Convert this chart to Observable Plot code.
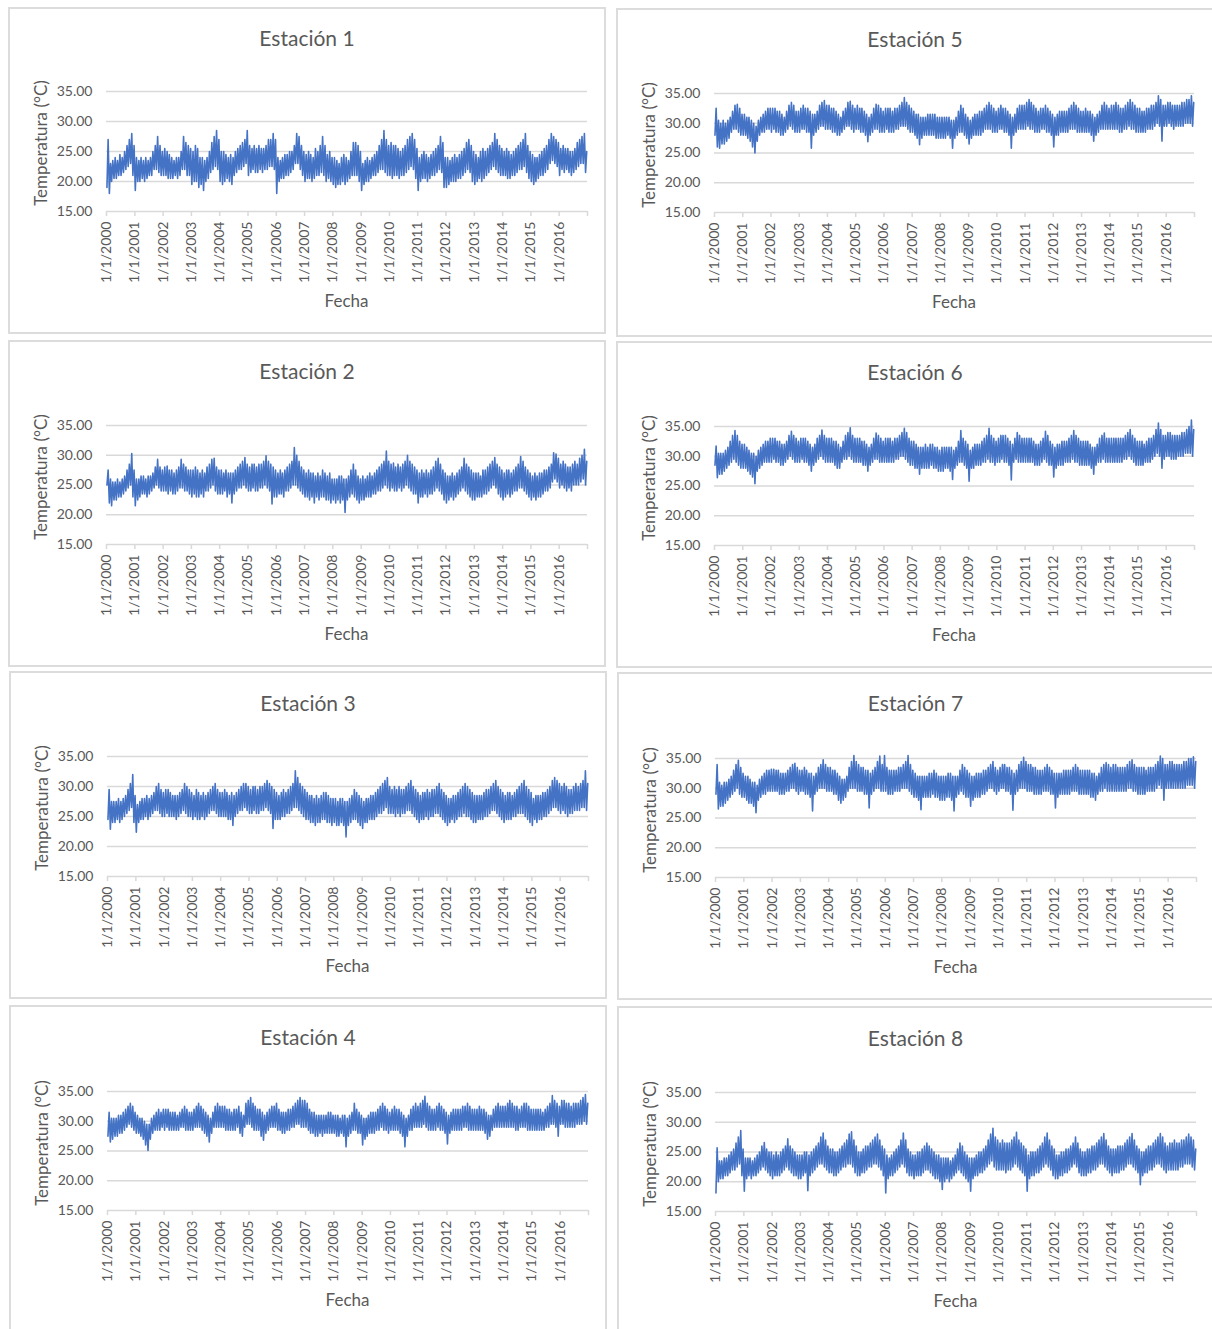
<!DOCTYPE html>
<html><head><meta charset="utf-8">
<script src="https://cdn.jsdelivr.net/npm/d3@7"></script>
<script src="https://cdn.jsdelivr.net/npm/@observablehq/plot@0.6"></script>
<style>
body{margin:0;background:#fff;font-family:Lato,"Open Sans",sans-serif;}
#root{position:relative;width:1212px;height:1329px;overflow:hidden;background:#fff;}
.panel{position:absolute;border:2px solid #dcdcdc;box-sizing:border-box;background:#fff;}
.title{position:absolute;left:0;right:0;text-align:center;font-size:21px;line-height:24px;color:#595959;}
.atitle{position:absolute;font-size:17px;line-height:20px;color:#595959;white-space:nowrap;}
.panel svg{position:absolute;left:0;overflow:visible;}
</style></head>
<body><div id="root"></div>
<script>
// Monthly low/high pairs (°C), Jan 2000 .. Dec 2016
const s1 = [
19,27, 18,23, 20,23.5, 20.5,24, 20.5,23.5, 21,24.5, 21,24, 21.5,25, 22,26, 22.5,27, 23,28, 21,26,
18.5,24, 20,23.5, 20,24, 20.5,23.5, 20,24, 20.5,23.5, 21,24, 21,25, 22,26, 22,27.5, 21.5,26, 21,25,
21,25.5, 21,25, 20.5,24.5, 20.5,24, 20.5,23.5, 21,24, 20.5,24, 21,25, 22,27.5, 22,26.5, 21,26, 21,25.5,
19.5,25, 20,26, 20,25.5, 19,24, 19.5,24, 18.5,23.5, 20,24, 20.5,25, 21.5,26.5, 22,27.5, 22.5,28.5, 22,27,
20,25, 19.5,25, 20,24.5, 20.5,24, 20,24.5, 19.5,24, 21,25, 21.5,25.5, 22,26, 22,26.5, 22.5,27, 23,28.5,
21,26, 21.5,25.5, 22,26, 21.5,25.5, 21.5,26, 22,25.5, 21.5,25.5, 22,26, 22,27, 22.5,27, 22.5,28, 22,27,
18,24, 20,23.5, 20.5,24, 20.5,24.5, 21,24.5, 21,25, 21.5,25, 22,26, 23,28, 23,27.5, 22,26, 21,25,
20,24.5, 20.5,25, 20.5,24.5, 20,24, 20.5,25.5, 21,25, 21,26, 21.5,27.5, 21,26, 20,24.5, 20.5,25, 20,24,
19.5,24, 19,23.5, 19.5,23, 19.5,24, 20,24.5, 19.5,24, 20,23.5, 20.5,25, 21,26.5, 21,26.5, 21,26, 20,25,
18.5,23, 19.5,23.5, 20,24, 20,23.5, 20.5,24, 21,24.5, 21,25, 21.5,26, 22,27, 22,28.5, 21.5,27, 21,26,
21,26.5, 20.5,26, 21,26, 21,25.5, 20.5,25, 21,25.5, 21,26, 21.5,27, 22,27.5, 22.5,28, 22,27, 20.5,25.5,
18.5,24, 20,24.5, 20.5,25, 20.5,24.5, 20,24, 20.5,24.5, 21,25, 21,25.5, 21.5,26, 22,27.5, 21.5,26.5, 19,24,
19,24, 19.5,23.5, 20,24, 20,24.5, 20,24, 20.5,24.5, 20.5,25, 21,25.5, 21.5,26.5, 22,27, 21.5,26, 20,25,
19.5,24.5, 20,24, 20.5,25, 20,25.5, 20.5,25, 21,25.5, 21.5,26, 22,26.5, 22.5,28, 22,27, 21.5,26, 21,25.5,
21,25, 21,25.5, 20.5,25, 20.5,24.5, 21,25, 21,25.5, 21.5,26, 22,26.5, 22,27, 22.5,28, 21.5,26, 20.5,25,
20,24.5, 19.5,24, 20,24, 20.5,24.5, 21,25, 21,25.5, 21.5,26, 22,27, 23,28, 23.5,27.5, 23,27, 22.5,26.5,
21,25.5, 22,26, 21.5,25.5, 22,25.5, 21.5,25, 21,25, 21.5,25.5, 22,26.5, 22.5,27, 23,27.5, 23,28, 21.5,25
];
const s2 = [
25,27.5, 22,26, 21.5,25.5, 22.5,25.5, 22.5,26, 23,25.5, 23,26, 23.5,26.5, 24,27.5, 24.5,28.5, 25,30.3, 23,27.5,
21.5,26, 22.5,26, 23,26.5, 23.5,26.5, 23.5,26, 23,26.5, 23.5,26.5, 24,27, 24.5,28, 25,29.3, 24.5,28, 24,27.5,
24,28, 24,28.2, 23.5,27.5, 24,27.5, 23.5,27, 23.5,27.5, 24,28, 24.5,29.3, 24.5,28.5, 24,28, 24,27.5, 23.5,27.5,
23,27.5, 23.5,28, 23,27.5, 23,27, 23.5,27.5, 23,27, 24,28, 24,28.5, 24.5,29.3, 25,29.5, 24,28, 23.5,27.5,
23.5,27.5, 23.5,27, 24,27.5, 23,27, 23.5,27, 22,27, 23.5,27.5, 24,28, 24.5,28.5, 24.5,29, 25,29.6, 24.5,28.5,
24,28, 24,28.5, 24.5,28.5, 24,28, 24,28.5, 24.5,28.5, 24.5,29, 25,29.9, 24.5,29, 24,28.5, 21.8,28, 23,27.5,
23,27, 23.5,27.5, 23.5,27, 23,27.5, 24,28, 24,28.5, 24.5,29, 25,31.3, 25,30, 24.5,29, 24,28, 23.5,27.5,
23,27, 23,27.5, 22.5,27, 23,27, 22,26.5, 23,27, 22.5,26.5, 23,27.5, 23,27, 22.5,26.5, 22.5,27, 22,26,
22.5,26, 22,26, 22.5,26.5, 22,26.5, 22.5,26, 20.4,26, 22.5,26.5, 23,27.5, 23.5,28.5, 23,27.5, 22.5,26.5, 22,26,
22.5,26.5, 22.5,26, 23,26.5, 23,27, 23,26.5, 23.5,27, 23.5,27.5, 24,28, 24,28.5, 24.5,29, 25,30.7, 24.5,29,
24,28.5, 24.5,28.7, 24,28, 24,28.5, 24.5,28, 24,28.5, 24.5,29, 25,30, 24.5,29, 24,28.5, 23.5,28, 23.5,27.5,
22,27, 23,27.5, 23,27, 23.5,27.5, 23,27, 23.5,27.5, 23.5,28, 24,29, 24.5,29.5, 24,28.5, 23.5,27.5, 22.5,27,
22,26.5, 22.5,26.5, 23,27, 22.5,26.5, 23,27, 23.5,27.5, 24,28, 24.5,29.5, 24,28.5, 23.5,28, 23,27.5, 22.5,27,
22.5,27, 23,27, 23,26.5, 23,27.5, 23.5,27.5, 23.5,28, 24,28.5, 24.5,29, 25,29.6, 24.5,28.5, 23.5,28, 23,27.5,
22.5,27, 23,27.5, 23.5,27.5, 23,27, 23.5,27.5, 24,28, 24,28.5, 24.5,29.8, 24.5,29, 24,28, 23.5,27.5, 23,27,
22.5,26.5, 23,27, 22.5,26.5, 23,27, 23,27, 23.5,27.5, 24,27.5, 24,28, 24.5,28.5, 25.5,30.4, 26,30.2, 25.5,29.5,
24.5,28.5, 25,29, 24.5,28.5, 24,28, 24.5,28, 24,28.5, 25,29, 25,28.5, 25,29.5, 25.5,30, 26,31, 25,29
];
const s3 = [
24.5,29.5, 22.9,27.5, 24,27.5, 24,27.5, 24.5,28, 24,27.5, 24.5,28, 25,28.5, 25.5,29.5, 26,30.5, 26.5,32, 24,28.5,
22.4,27, 24,27.5, 24.5,28, 24.5,28, 25,28.5, 24.5,28, 25,28.5, 25.5,29, 26,30, 26,30.5, 25.5,29.5, 25,29,
25,29.5, 25.5,29.5, 25,29, 25,28.5, 25,28.5, 24.5,28.5, 25,29, 25.5,29.5, 26,30.5, 25.5,30, 25,29.5, 25,29,
24.5,28.5, 25,29.5, 24.5,29, 24.5,28.5, 25,29, 24.5,28.5, 25,29, 25.5,29.5, 26,30, 26,30.5, 25.5,29.5, 25,29,
25,29, 25,29.5, 25,29, 24.5,28.5, 24.5,29, 23.5,28.5, 25,29, 25.5,29.5, 26,30, 26,30.5, 26.5,30.5, 26,30,
25.5,29.5, 25.5,30, 26,30, 25.5,29.5, 25.5,30, 26,30, 26,30.5, 26.5,31, 26,30.5, 25.5,30, 23,29.5, 24.5,29,
24.5,28.5, 24.5,29, 25,29.5, 25,29, 25.5,29.5, 25.5,30, 26,30.5, 26.5,32.6, 26.5,31.5, 26,30.5, 25.5,30, 25,29.5,
24.5,29, 24.5,28.5, 24,28.5, 24,28, 23.5,28.5, 24,28, 24,28.5, 24.5,29, 24.5,29, 24,28.5, 24,28, 23.5,28,
24,28, 23.5,27.5, 23.5,28, 24,28, 23.5,27.5, 21.6,27.5, 23.5,28, 24,28.5, 24.5,29.5, 24.5,29, 24,28.5, 23.5,28,
23,27.5, 24,28, 24,28, 24.5,28.5, 24.5,28.5, 24.5,29, 25,29.5, 25.5,30, 25.5,30.5, 26,31, 26.5,31.5, 25.5,30,
25.5,29.5, 25.5,30, 25,29.5, 25.5,30, 25,29.5, 25.5,29.5, 25.5,30, 26,30.5, 26,31, 25.5,30, 25,29.5, 24.5,29,
24,28.5, 24.5,29, 24.5,29, 25,29.5, 24.5,29, 25,29.5, 25,29.5, 25.5,30, 25.5,30.5, 25,29.5, 24.5,29, 24,28.5,
23.5,28, 24,28, 24.5,28.5, 24,28.5, 24.5,29, 25,29.5, 25,30, 25.5,30.5, 25,30, 25,29.5, 24.5,29, 24,28.5,
24,28.5, 24.5,28.5, 24.5,28.5, 24.5,29, 25,29.5, 25,29.5, 25.5,30, 26,30.5, 26,31, 25.5,30, 25,29.5, 24.5,29,
24,28.5, 24.5,29, 24.5,29, 24.5,28.5, 25,29, 25,29.5, 25.5,30, 25.5,30.5, 25.5,31, 25,30, 24.5,29.5, 24,29,
23.5,28, 24.5,28.5, 24,28.5, 24.5,28.5, 24.5,29, 25,29, 25,29.5, 25.5,30, 26,31, 26.5,31.5, 26.5,31, 26,30.5,
25.5,30, 26,30.5, 25.5,30, 25,29.5, 25.5,29.5, 25.5,30, 26,30.5, 26,30, 26,30.5, 26.5,31, 26.5,32.6, 26,30.5
];
const s4 = [
27.5,31.5, 26.5,30.5, 27,30.5, 27.5,30.5, 27.5,31, 28,31, 28,31.5, 28.5,32, 29,32.5, 29.5,33, 29,32.5, 28.5,31.5,
28,31, 28,30.5, 27.5,30.5, 27,30, 26,29.5, 25.1,29.5, 27,30.5, 28,31, 28.5,31.5, 28.5,32, 28.5,31.5, 29,32,
28.5,32, 29,32, 28.5,31.5, 28.5,31.5, 28.5,31.5, 28.5,31, 28.5,31.5, 29,32, 29,32.5, 28.5,32, 28.5,31.5, 28.5,31.5,
28.5,32, 29,32.5, 29,33, 29,32.5, 28.5,32, 28,31.5, 27.5,31, 26.5,30.5, 28,31.5, 29,32.5, 29,33, 29,32.5,
29,32.5, 29,32.5, 28.5,32, 28.5,32, 28.5,31.5, 28.5,32, 28.5,32, 29,32.5, 28,31.5, 27.5,31, 29,33, 29.5,33.5,
29.5,34, 29,33, 28.5,32.5, 28.5,32, 28.5,32, 27.5,31.5, 26.8,31, 28,31.5, 28.5,32, 29,32.5, 29,32.5, 29,33,
28.5,32, 28.5,31.5, 28,31.5, 28,31.5, 28.5,32, 28.5,32, 29,32.5, 29,33, 29.5,33.5, 29.5,34, 29,33.5, 29,33.5,
29,33, 28.5,32, 28,31.5, 28,31.5, 27.5,31, 27.5,31, 28,31, 27.5,31, 28,31, 28,31.5, 28,31.5, 28,31,
28,31, 27.5,31, 27.5,30.5, 28,31, 27.5,31, 25.7,30.5, 27.5,31, 28,31.5, 28.5,33, 28.5,32, 28,31.5, 28,31,
26,30.5, 27,30.5, 27.5,31, 28,31.5, 28,31.5, 28,31.5, 28.5,32, 28.5,32.5, 29,33, 28.5,32.5, 28.5,32, 28,31.5,
28.5,32, 28.5,32.5, 28.5,32, 28.5,32, 28,31.5, 27.5,31, 25.7,30.5, 27.5,31, 28.5,32, 28.5,32.5, 29,33, 29,32.5,
29,33, 29,33.5, 29.5,34.2, 29,33, 28.5,32.5, 28.5,32, 28.5,32, 28.5,32.5, 29,33, 28.5,32.5, 28.5,32, 28,31.5,
26.2,31, 28,31.5, 28.5,32, 28.5,32, 28.5,32, 28.5,32, 28.5,32.5, 29,32.5, 29,33, 28.5,32.5, 28.5,32, 28.5,32,
28.5,32, 28.5,32.5, 28.5,32, 28.5,32, 28,31.5, 27,31, 27.5,31, 28.5,32, 29,32.5, 29,33, 29,32.5, 29,32.5,
29,32.5, 29,33, 29,33.5, 29,33, 29,32.5, 28.5,32.5, 28.5,32, 29,32.5, 29,33, 29,33, 28.5,32.5, 28.5,32,
28.5,32, 28.5,32, 28.5,32, 28.5,32, 28.5,31.5, 28.5,32, 29,32.5, 29,33, 29.5,34.3, 29.5,33.5, 29,33, 27.5,32.5,
29.5,33.5, 29.5,33.5, 29,33, 29,33, 29,32.5, 29,33, 29,33, 29.5,33, 29.5,33.5, 29.5,34, 30,34.5, 29.5,33
];
const s5 = [
28,32.5, 26,30.5, 25.8,30, 26.5,30.5, 26.5,30, 27,30.5, 27.5,31, 28.5,32, 29,33, 29,33.2, 28.5,32.5, 28,31.5,
28,31.5, 28,31, 27.5,31, 27,30.5, 26,30, 25,29.5, 27,30.5, 28,31, 28.5,31.5, 28.5,32, 29,32.5, 29,32.5,
28.5,32.5, 29,32.5, 28.5,32, 28.5,32, 28,31.5, 28,31, 28.5,32, 29,33, 29.5,33.5, 29,33, 28.5,32, 28.5,32,
28.5,32.5, 29,33, 29,32.5, 28.5,32.5, 28.5,32, 25.8,31.5, 28,31.5, 28.5,32, 29,33, 29.5,33.5, 29.5,33.8, 29,33,
29,33, 29,32.5, 28.5,32.5, 28.5,32, 28,31.5, 28,31, 28.5,32, 29,32.5, 29.5,33.5, 29.5,33.7, 29,33, 28.5,32.5,
29,33, 29,32.5, 28.5,32.5, 28.5,32, 28,31.5, 26.9,31, 28,31.5, 28.5,32.5, 29,33.2, 29,33, 28.5,32.5, 28.5,32,
28.5,32.5, 29,32.5, 28.5,32.5, 28.5,32, 28.5,32.5, 29,32.5, 29,33, 29.5,33.5, 29.5,34.3, 29.5,33.5, 29,33, 28.5,32.5,
28.5,32, 28,31.5, 27.5,31.5, 26.4,31, 27.5,31, 28,31, 28,31.5, 28,31.5, 28,31.5, 28,31.5, 27.5,31, 27.5,31,
27.5,31, 27.5,31, 27.5,31, 28,31, 27.5,30.5, 25.8,30.5, 27.5,31, 28,32, 28.5,33, 28.5,32.5, 28,31.5, 27.5,31,
26.5,30.5, 27.5,31, 28,31.5, 28,31.5, 28,32, 28,32, 28.5,32.5, 29,33, 29,33.5, 29,33, 28.5,32.5, 28.5,32,
28.5,32.5, 29,33, 29,32.5, 28.5,32.5, 28.5,32, 28,31.5, 25.8,31, 28,31.5, 28.5,32.5, 29,33, 29,33, 29,33,
29,33.5, 29.5,34, 29,33.5, 29,33, 28.5,32.5, 28.5,32, 28.5,32.5, 29,32.5, 29,33, 28.5,32.5, 28.5,32, 28,31.5,
26,31, 28,31.5, 28,32, 28.5,32, 28.5,32, 28.5,32, 28.5,32.5, 29,33, 29,33.5, 29,33, 28.5,32.5, 28.5,32,
28.5,32, 28.5,32.5, 28.5,32, 28.5,32, 28,31.5, 27,31, 28,31.5, 28.5,32, 29,33, 29,33.5, 29,33, 29,32.5,
29,33, 29,33, 29,33.5, 29,33, 28.5,32.5, 28.5,32.5, 29,33, 29,33.5, 29.5,34, 29,33.5, 29,33, 28.5,32.5,
28.5,32.5, 28.5,32, 28.5,32, 28.5,32.5, 29,32.5, 29,33, 29,33, 29.5,33.5, 30,34.6, 29.5,34, 27,33, 29.5,33,
29.5,33.5, 30,33.5, 29.5,33, 29,33, 29.5,33, 29.5,33, 29.5,33.5, 29.5,33.5, 30,34, 30,34, 30,34.6, 29.5,33.5
];
const s6 = [
28.5,31.7, 26.4,30.5, 27,30.5, 27,30.5, 27.5,31, 28,31.5, 28.5,32.5, 29,33.5, 29.5,34.3, 29,33.5, 28.5,32.5, 28,32,
28,32, 28,31.5, 27.5,31, 27,30.5, 26.5,30.5, 25.4,30, 27.5,31, 28,31.5, 28.5,32, 29,32.5, 29,32.5, 29,33,
29,33, 29.5,33, 29,32.5, 29,32.5, 28.5,32, 28.5,32, 29,32.5, 29.5,33.5, 30,34.2, 29.5,33.5, 29,33, 29,32.5,
29,33, 29.5,33, 29,33, 29,32.5, 28.5,32, 27.5,31.5, 28.5,32, 29,33, 29.5,33.5, 30,34.4, 29.5,33.5, 29,33,
29,33, 29,33, 29,32.5, 28.5,32.5, 28,32, 28,31.5, 29,32.5, 29.5,33.5, 29.5,34, 30,34.8, 29.5,33.5, 29,33,
29,33, 29,33, 29,32.5, 28.5,32.5, 28.5,32, 27.5,31.5, 28.5,32, 29,33, 29.5,33.9, 29.5,33.5, 29,33, 29,32.5,
29,33, 29,33, 29,33, 29,32.5, 29,33, 29.5,33, 29.5,33.5, 30,34, 30,34.7, 29.5,34, 29,33, 28.5,32.5,
28.5,32.5, 28,32, 28,31.5, 27,31.5, 28,31.5, 28,32, 28,31.5, 28,32, 28.5,32, 28,31.5, 28,31.5, 27.5,31,
27.5,31.5, 27.5,31.5, 28,31.5, 28,31.5, 27.5,31.5, 26.1,31, 28,31.5, 28.5,32.5, 29,34.3, 29,33, 28.5,32.5, 28,32,
25.8,31, 28,31.5, 28,32, 28.5,32, 28.5,32, 28.5,32.5, 29,33, 29,33.5, 29.5,34.7, 29,33.5, 29,33, 28.5,32.5,
29,33, 29,33.5, 29.5,33.5, 29,33.5, 29,33, 28.5,32.5, 26,32, 29,33, 29.5,34, 29,33.5, 29,33, 29,33,
29,33, 29,33, 29,33, 29,32.5, 28.5,32, 28.5,32, 28.5,32.5, 29,33, 29.5,34.2, 29,33.5, 28.5,32.5, 28.5,32,
26.5,31.5, 28,32, 28.5,32, 28.5,32.5, 28.5,32.5, 29,32.5, 29,33, 29,33.5, 29.5,34.3, 29,33.5, 29,33, 28.5,32.5,
28.5,32.5, 28.5,32.5, 28.5,32.5, 28.5,32, 28,31.5, 27,31.5, 28.5,32, 29,33, 29,33.5, 29.5,33.9, 29,33, 29,33,
29,33, 29,33, 29,33, 29,33, 29,33, 29,33, 29.5,33.5, 29.5,34, 30,34.5, 29.5,33.5, 29,33, 28.5,32.5,
28.5,32.5, 28.5,32.5, 28.5,32, 29,32.5, 29,33, 29,33, 29.5,33.5, 30,34.5, 30.5,35.6, 30,34.5, 28,33.5, 29.5,33.5,
30,34, 30,34, 29.5,33.5, 29.5,33.5, 29.5,33.5, 30,33.5, 30,34, 30,34, 30.5,34.5, 30.5,35, 30.5,36.1, 30,34.5
];
const s7 = [
29,34, 26.5,31, 27,30.5, 27,31, 27.5,31, 28,31.5, 28.5,32, 29,33, 29.5,34, 30,34.7, 29,33.5, 28.5,32.5,
28.5,32, 28,32, 27.5,31.5, 27.5,31, 27,31, 25.9,30.5, 28,31.5, 28.5,32, 29,32.5, 29,33, 29.5,33, 29.5,33.2,
29.5,33.2, 29.5,33, 29.5,33, 29,32.5, 29,32.5, 29,32.5, 29.5,33, 29.5,33.5, 30,34, 30,34.2, 29.5,33.5, 29,33,
29.5,33, 29.5,33.5, 29,33, 29,32.5, 28.5,32.5, 26.2,32, 29,32.5, 29.5,33.5, 30,34, 30,34.8, 30,34, 29.5,33.5,
29.5,33.5, 29.5,33, 29,33, 29,32.5, 28,32, 27.5,31.5, 28,31.5, 28.5,32, 29.5,33.5, 30,34.5, 30,35.5, 30,34.5,
29.5,34, 29.5,33.5, 29.5,33.5, 29,33, 29,33, 26.7,32.5, 29,33, 29.5,33.5, 30,34.5, 30,35.4, 29.5,34, 29.5,35.5,
29.5,33.5, 29,33, 29,33, 29,33, 29.5,33, 29.5,33.5, 29.5,33.5, 30,34, 30,34.5, 30,35.5, 29.5,34, 29,33,
28.5,32.5, 28.5,32, 28,32, 26.4,32, 28.5,32, 28.5,32, 28.5,32.5, 28.5,32.5, 29,33, 28.5,32.5, 28.5,32, 28,32,
28,32, 28,32, 28.5,32.5, 28.5,32.5, 28,32, 26.2,32, 28.5,32, 29,33, 29.5,34, 29,33.5, 28.5,33, 28.5,32.5,
27,32, 28,32, 28.5,32.5, 28.5,32.5, 28.5,32.5, 29,33, 29,33, 29.5,33.5, 30,34, 30,34.5, 29.5,33.5, 29,33,
29.5,33.5, 30,34, 30,34, 29.5,33.5, 29.5,33.5, 29,33, 26.3,32.5, 29,33, 29.5,34, 30,34.5, 30,35.2, 30,34.5,
29.5,34, 29.5,34, 29.5,33.5, 29,33.5, 29,33, 29,33, 29,33, 29.5,33.5, 29.5,34, 29.5,33.5, 29,33, 29,32.5,
26.7,32.5, 28.5,32.5, 29,32.5, 29,33, 29,33, 29,33, 29,33, 29.5,33.5, 29.5,34, 29.5,33.5, 29,33, 29,33,
29,33, 29,33, 29,33, 28.5,32.5, 28.5,32.5, 28,32, 29,32.5, 29.5,33.5, 29.5,34, 30,34.3, 29.5,34, 29.5,33.5,
29.5,34, 29.5,34, 29.5,33.5, 29.5,33.5, 29.5,33.5, 29.5,33.5, 29.5,34, 30,34.5, 30,34.8, 29.5,34, 29.5,33.5, 29,33.5,
29,33.5, 29,33.5, 29,33, 29.5,33.5, 29.5,33.5, 29.5,33.5, 29.5,34, 30,34.5, 30.5,35.4, 30,35, 28,34, 30,34,
30,34.5, 30,34.5, 30,34, 30,34, 30,34, 30,34, 30,34.5, 30,34.5, 30.5,35, 30.5,35, 30.5,35.3, 30,34.5
];
const s8 = [
18.1,25.7, 20,23.5, 20.5,23.5, 20.5,24, 21,24, 21,24.5, 21.5,25, 22,25.5, 22,26.5, 22.5,27.5, 23,28.6, 21,25.5,
18.4,24, 20.5,24, 21,24, 20.5,23.5, 21,24, 21,24.5, 21.5,25, 22,26, 22.5,26.6, 22,25.5, 21.5,25, 21,25,
20.5,24.5, 21,25, 21,24.5, 21,25, 21.5,25.5, 22,26, 22.5,27.2, 22,26, 21.5,25.5, 21,25, 21,24.5, 20.5,24.5,
20.5,24.5, 21,25, 21.5,25, 18.5,24.5, 21,25, 21.5,25.5, 22,26, 22.5,26.5, 23,27.5, 23,28.2, 22.5,27, 22,26,
21.5,25.5, 21.5,25.5, 21,25, 21,25, 21.5,25.5, 22,26, 22.5,26.5, 22.5,27, 23,28, 23,28.4, 22.5,27, 21.5,26,
21,25, 21,25, 21.5,25.5, 21.5,26, 22,26, 22.5,26.5, 22.5,27, 23,27.5, 23,28, 22.5,27, 22,26, 21,25.5,
18.1,24.5, 20.5,24, 21,24.5, 21,25, 21.5,25.5, 22,26, 22.5,27, 23,28.2, 22.5,27, 21.5,25.5, 21,25, 21,24.5,
20.5,24.5, 21,25, 21,25, 21,25.5, 21.5,26, 22,26.5, 22,26, 21.5,25.5, 21,25, 20.5,24.5, 20.5,24.5, 20,24,
18.7,24, 20,24, 20.5,24, 20,23.5, 20.5,24, 21,24.5, 21.5,25.5, 22,26.5, 21.5,26, 21,25, 20.5,24.5, 20,24,
18.4,24, 20.5,24, 21,24.5, 21,25, 21.5,25, 21.5,25.5, 22,26, 22.5,27, 23,28, 23.5,29, 22.5,27.5, 22,27,
22,26.5, 22,27, 22,26.5, 21.5,26.5, 22,26.5, 22,27, 22.5,27.5, 23,28.3, 22.5,27, 22,26.5, 21.5,26, 21,25.5,
18.4,24.5, 20.5,25, 21,25, 21,25, 21.5,25.5, 21.5,26, 22,26.5, 22.5,27.5, 23,28.2, 22.5,27, 22,26, 21,25.5,
20.5,24.5, 20.5,24.5, 21,25, 21,25, 21.5,25.5, 21.5,25.5, 22,26, 22.5,26.5, 23,27.5, 22.5,26.5, 21.5,25.5, 21,25,
21,25, 21,25.5, 21.5,25.5, 21.5,26, 22,26, 22,26.5, 22.5,27, 23,27.5, 23,28.1, 22.5,27, 22,26, 21.5,25.5,
21,25.5, 21.5,25.5, 21.5,26, 21.5,26, 22,26, 22,26.5, 22.5,27, 23,27.5, 23,28.1, 22.5,27, 22,26, 21.5,25.5,
19.5,25, 21,25, 21.5,25.5, 21.5,26, 22,26, 22,26.5, 22.5,27, 23,27.5, 23,28.1, 22.5,27.5, 22,26.5, 21.5,26,
22,26.5, 22,26.5, 22,27, 22,26.5, 22,26.5, 22.5,27, 22.5,27, 23,27.5, 23,28, 23,27.5, 22.5,27, 22,25.5
];

const titles = ["Estación 1","Estación 2","Estación 3","Estación 4","Estación 5","Estación 6","Estación 7","Estación 8"];
const series = [s1,s2,s3,s4,s5,s6,s7,s8];
const yTicks = [15, 20, 25, 30, 35];
const yearTicks = d3.utcYear.range(new Date(Date.UTC(2000,0,1)), new Date(Date.UTC(2017,0,2)));
const yLabel = "Temperatura (°C)";
const xLabel = "Fecha";

// layout: panel box [left, top, width, height], plot x-range, plot y for 35 and 15, title centre y
const layout = [
  {box:[8,7,598,327],    px:[106,587], py:[91,211],   ty:38},
  {box:[8,340,598,327],  px:[106,587], py:[425,544],  ty:371},
  {box:[9,671,598,328],  px:[107,588], py:[756,876],  ty:703},
  {box:[9,1005,598,330], px:[107,588], py:[1091,1210],ty:1037},
  {box:[616,8,598,329],  px:[714,1194],py:[93,212],   ty:39},
  {box:[616,341,598,327],px:[714,1194],py:[426,545],  ty:372},
  {box:[617,672,597,328],px:[715,1196],py:[758,877],  ty:703},
  {box:[617,1006,597,330],px:[715,1196],py:[1092,1211],ty:1038}
];

const root = document.getElementById("root");
const B = 2; // border width

series.forEach((arr, k) => {
  const L = layout[k];
  const [bx, by, bw, bh] = L.box;
  const data = arr.map((v, i) => {
    const m = Math.floor(i / 2);
    return {date: new Date(Date.UTC(2000 + Math.floor(m / 12), m % 12, i % 2 ? 22 : 7)), temp: v};
  });
  const panel = document.createElement("div");
  panel.className = "panel";
  Object.assign(panel.style, {left: bx + "px", top: by + "px", width: bw + "px", height: bh + "px"});
  root.appendChild(panel);

  const t = document.createElement("div");
  t.className = "title";
  t.textContent = titles[k];
  t.style.top = (L.ty - by - B - 12) + "px";
  panel.appendChild(t);

  const mt = 10, mb = 80;
  const innerW = bw - 2 * B;
  const ml = L.px[0] - bx - B;
  const mr = innerW - (L.px[1] - bx - B);
  const ph = L.py[1] - L.py[0];
  const chart = Plot.plot({
    width: innerW,
    height: mt + ph + mb,
    marginTop: mt, marginBottom: mb, marginLeft: ml, marginRight: mr,
    style: {fontFamily: "Lato, 'Open Sans', sans-serif", fontSize: "14px", color: "#595959", background: "transparent"},
    x: {type: "utc", domain: [new Date(Date.UTC(2000,0,1)), new Date(Date.UTC(2017,0,1))], label: null},
    y: {domain: [15, 35], label: null},
    marks: [
      Plot.ruleY(yTicks, {stroke: "#d9d9d9", strokeWidth: 1.5}),
      Plot.axisY(yTicks, {tickSize: 0, tickPadding: 14, tickFormat: d => d.toFixed(2), fill: "#595959", label: null}),
      Plot.axisX(yearTicks, {tickSize: 5, tickPadding: 5, tickRotate: -90, stroke: "#d9d9d9", strokeWidth: 1.5, fill: "#595959",
        tickFormat: d => d.getUTCFullYear() < 2017 ? `1/1/${d.getUTCFullYear()}` : "", label: null}),
      Plot.line(data, {x: "date", y: "temp", stroke: "#4472C4", strokeWidth: 1.6})
    ]
  });
  chart.style.top = (L.py[0] - by - B - mt) + "px";
  panel.appendChild(chart);

  const yl = document.createElement("div");
  yl.className = "atitle";
  yl.textContent = yLabel;
  const cx = L.px[0] - 65 - bx - B, cy = L.py[0] + 52 - by - B;
  Object.assign(yl.style, {left: cx + "px", top: cy + "px", transform: "translate(-50%,-50%) rotate(-90deg)"});
  panel.appendChild(yl);

  const xl = document.createElement("div");
  xl.className = "atitle";
  xl.textContent = xLabel;
  const fx = (L.px[0] + L.px[1]) / 2 - bx - B, fy = L.py[1] + 90 - by - B;
  Object.assign(xl.style, {left: fx + "px", top: fy + "px", transform: "translate(-50%,-50%)"});
  panel.appendChild(xl);
});
</script></body></html>
